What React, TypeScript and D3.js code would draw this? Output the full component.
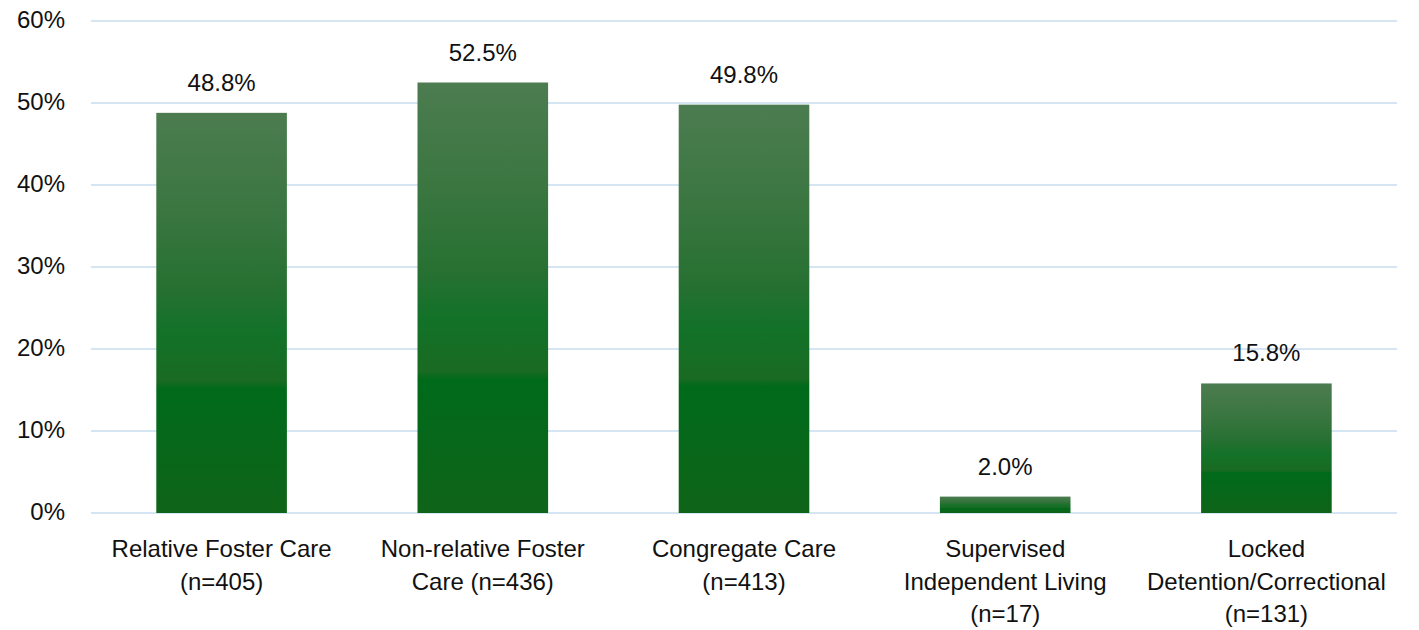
import React from "react";
import * as d3 from "d3";

const categories = [
  "Relative Foster Care (n=405)",
  "Non-relative Foster Care (n=436)",
  "Congregate Care (n=413)",
  "Supervised Independent Living (n=17)",
  "Locked Detention/Correctional (n=131)",
];
const categoryLines = [
  ["Relative Foster Care", "(n=405)"],
  ["Non-relative Foster", "Care (n=436)"],
  ["Congregate Care", "(n=413)"],
  ["Supervised", "Independent Living", "(n=17)"],
  ["Locked", "Detention/Correctional", "(n=131)"],
];
const values = [48.8, 52.5, 49.8, 2.0, 15.8];
const yTicks = [0, 10, 20, 30, 40, 50, 60];

const W = 1419;
const H = 630;
const left = 91;
const right = 1397;
const top = 21;
const bottom = 513;
const font = "'Liberation Sans', Arial, sans-serif";

export default function App() {
  const x = d3.scaleBand<string>().domain(categories).range([left, right]).paddingInner(0.5).paddingOuter(0.25);
  const y = d3.scaleLinear().domain([0, 60]).range([bottom, top]);

  return (
    <svg width={W} height={H} style={{ position: "absolute", left: 0, top: 0, background: "#fff" }}>
      <defs>
        <linearGradient id="barGrad" x1="0" y1="0" x2="0" y2="1">
          <stop offset="0" stopColor="#4c7c50" />
          <stop offset="0.25" stopColor="#3a7640" />
          <stop offset="0.45" stopColor="#257031" />
          <stop offset="0.55" stopColor="#127228" />
          <stop offset="0.67" stopColor="#1a6a22" />
          <stop offset="0.69" stopColor="#006a1b" />
          <stop offset="1" stopColor="#0f6418" />
        </linearGradient>
      </defs>
      {yTicks.map((t) => (
        <g key={t}>
          <line x1={left} x2={right} y1={y(t)} y2={y(t)} stroke="#c9dcf0" strokeWidth={1.6} />
          <text x={65} y={y(t)} dy="0.3em" textAnchor="end" fontFamily={font} fontSize={24} fill="#111">
            {t}%
          </text>
        </g>
      ))}
      {categories.map((c, i) => {
        const bx = x(c)!;
        const bw = x.bandwidth();
        const cx = bx + bw / 2;
        return (
          <g key={c}>
            <rect x={bx} y={y(values[i])} width={bw} height={y(0) - y(values[i])} fill="url(#barGrad)" />
            <text x={cx} y={y(values[i]) - 22} textAnchor="middle" fontFamily={font} fontSize={24} fill="#111">
              {values[i].toFixed(1)}%
            </text>
            {categoryLines[i].map((ln, j) => (
              <text key={j} x={cx} y={557 + j * 32.5} textAnchor="middle" fontFamily={font} fontSize={24} fill="#111">
                {ln}
              </text>
            ))}
          </g>
        );
      })}
    </svg>
  );
}
